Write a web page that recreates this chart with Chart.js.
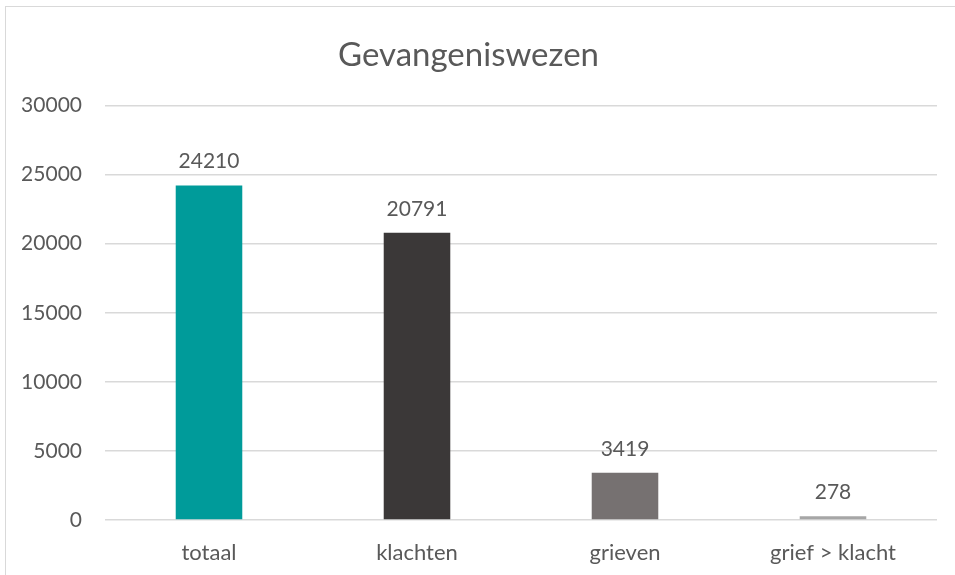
<!DOCTYPE html>
<html>
<head>
<meta charset="utf-8">
<script src="https://cdn.jsdelivr.net/npm/chart.js@4/dist/chart.umd.min.js"></script>
<style>
  html, body { margin: 0; padding: 0; background: #fff; overflow: hidden; }
  #frame { position: absolute; left: 5px; top: 6px; width: 970px; height: 590px; border: 1px solid #d9d9d9; box-sizing: border-box; }
  #wrap { position: absolute; left: 0; top: 0; width: 955px; height: 575px; }
</style>
</head>
<body>
<div id="frame"></div>
<div id="wrap"><canvas id="c" width="955" height="575"></canvas></div>
<script>
const categories = ["totaal", "klachten", "grieven", "grief > klacht"];
const values = [24210, 20791, 3419, 278];
const barColors = ["#009B9A", "#3B3838", "#767171", "#A6A6A6"];
const yTicks = [0, 5000, 10000, 15000, 20000, 25000, 30000];
const chartTitle = "Gevangeniswezen";

const textColor = "#595959";
const fontFamily = "Lato, 'Open Sans', sans-serif";

const dataLabels = {
  id: "dataLabels",
  afterDatasetsDraw(chart) {
    const ctx = chart.ctx;
    const meta = chart.getDatasetMeta(0);
    ctx.save();
    ctx.font = "21px " + fontFamily;
    ctx.fillStyle = textColor;
    ctx.textAlign = "center";
    ctx.textBaseline = "middle";
    meta.data.forEach((bar, i) => {
      ctx.fillText(String(values[i]), bar.x, bar.y - 24);
    });
    ctx.restore();
  }
};

new Chart(document.getElementById("c"), {
  type: "bar",
  data: {
    labels: categories,
    datasets: [{
      data: values,
      backgroundColor: barColors,
      borderWidth: 0,
      barPercentage: 0.32,
      categoryPercentage: 1.0
    }]
  },
  options: {
    responsive: false,
    animation: false,
    layout: { padding: { left: 0, right: 18, top: 0, bottom: 0 } },
    plugins: {
      legend: { display: false },
      tooltip: { enabled: false },
      title: {
        display: true,
        text: chartTitle,
        color: textColor,
        font: { family: fontFamily, size: 33, weight: "normal" },
        padding: { top: 36, bottom: 30 }
      }
    },
    scales: {
      x: {
        grid: { display: false, drawTicks: false },
        border: { display: false },
        ticks: { color: textColor, font: { family: fontFamily, size: 22 }, padding: 20 },
        afterFit(scale) { scale.height = 55; }
      },
      y: {
        min: 0,
        max: 30000,
        afterBuildTicks(scale) { scale.ticks = yTicks.map(v => ({ value: v })); },
        grid: { color: "#d9d9d9", lineWidth: 1.5, drawTicks: false },
        border: { display: false },
        ticks: {
          color: textColor,
          font: { family: fontFamily, size: 21 },
          padding: 23,
          callback: (v) => String(v)
        },
        afterFit(scale) { scale.width = 105; }
      }
    }
  },
  plugins: [dataLabels]
});
</script>
</body>
</html>
